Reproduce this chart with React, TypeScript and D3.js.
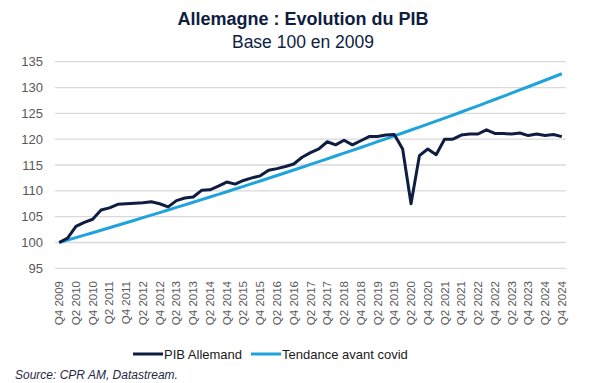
import React from "react";
import * as d3 from "d3";

const quarters: string[] = [];
const years = [2009, 2010, 2011, 2012, 2013, 2014, 2015, 2016, 2017, 2018, 2019, 2020, 2021, 2022, 2023, 2024];
// Q4 2009 .. Q4 2024 quarterly categories
years.forEach((y) => {
  ["Q1", "Q2", "Q3", "Q4"].forEach((q) => {
    if (y === 2009 && q !== "Q4") return;
    quarters.push(`${q} ${y}`);
  });
});

const pibAllemand = [
  100.0, 100.85, 103.1, 103.9, 104.5, 106.3, 106.7, 107.4, 107.5, 107.6,
  107.7, 107.9, 107.5, 106.9, 108.1, 108.6, 108.8, 110.1, 110.2, 110.9,
  111.7, 111.3, 112.0, 112.5, 112.9, 114.0, 114.3, 114.7, 115.2, 116.5,
  117.4, 118.1, 119.5, 118.9, 119.8, 118.9, 119.7, 120.5, 120.5, 120.8,
  120.9, 118.1, 107.5, 116.8, 118.1, 117.0, 120.0, 120.0, 120.8, 121.0,
  121.0, 121.8, 121.1, 121.1, 121.0, 121.2, 120.7, 121.0, 120.7, 120.9,
  120.5,
];

const tendance = [
  100.0, 100.47, 100.94, 101.42, 101.89, 102.37, 102.85, 103.34, 103.82, 104.31,
  104.8, 105.29, 105.79, 106.29, 106.79, 107.29, 107.79, 108.3, 108.81, 109.32,
  109.83, 110.35, 110.87, 111.39, 111.91, 112.44, 112.97, 113.5, 114.03, 114.57,
  115.11, 115.65, 116.19, 116.74, 117.29, 117.84, 118.39, 118.95, 119.51, 120.07,
  120.63, 121.2, 121.77, 122.34, 122.92, 123.5, 124.08, 124.67, 125.26, 125.86,
  126.46, 127.07, 127.68, 128.29, 128.91, 129.53, 130.15, 130.78, 131.41, 132.04,
  132.67,
];

const yTicks = [95, 100, 105, 110, 115, 120, 125, 130, 135];

const W = 598;
const H = 383;
const plotLeft = 55;
const plotRight = 566;
const yTop = 61.7;
const yBottom = 268.3;

const NAVY = "#0e1d41";
const BLUE = "#1fa3dc";

export default function App() {
  const x = d3.scaleBand<string>().domain(quarters).range([plotLeft, plotRight]);
  const cx = (q: string) => (x(q) as number) + x.bandwidth() / 2;
  const y = d3.scaleLinear().domain([95, 135]).range([yBottom, yTop]);

  const line = d3
    .line<number>()
    .x((_, i) => cx(quarters[i]))
    .y((d) => y(d))
    .curve(d3.curveLinear);

  const labelQuarters = quarters.filter((_, i) => i % 2 === 0);

  return (
    <svg
      width={W}
      height={H}
      style={{ position: "absolute", left: 0, top: 0, background: "#fff" }}
      fontFamily="'Liberation Sans', Arial, sans-serif"
    >
      <text x={303} y={25} textAnchor="middle" fontSize={18} fontWeight="bold" fill={NAVY}>
        Allemagne : Evolution du PIB
      </text>
      <text x={303} y={48} textAnchor="middle" fontSize={17.5} fill={NAVY}>
        Base 100 en 2009
      </text>

      {yTicks.map((t) => (
        <g key={t}>
          <line x1={plotLeft} x2={plotRight} y1={y(t)} y2={y(t)} stroke="#d9d9d9" strokeWidth={1.3} />
          <text x={43} y={y(t)} dy="0.35em" textAnchor="end" fontSize={13} fill="#595959">
            {t}
          </text>
        </g>
      ))}

      {labelQuarters.map((q) => (
        <text
          key={q}
          transform={`translate(${cx(q) + 4},${281}) rotate(-90)`}
          textAnchor="end"
          fontSize={11.5}
          fill="#595959"
        >
          {q}
        </text>
      ))}

      <path d={line(tendance) || ""} fill="none" stroke={BLUE} strokeWidth={3} strokeLinejoin="round" />
      <path d={line(pibAllemand) || ""} fill="none" stroke={NAVY} strokeWidth={3} strokeLinejoin="round" />

      <g>
        <line x1={133} x2={163} y1={354} y2={354} stroke={NAVY} strokeWidth={3} />
        <text x={164} y={354} dy="0.35em" fontSize={13} fill="#1a1a1a">
          PIB Allemand
        </text>
        <line x1={251} x2={281} y1={354} y2={354} stroke={BLUE} strokeWidth={3} />
        <text x={282} y={354} dy="0.35em" fontSize={13} fill="#1a1a1a">
          Tendance avant covid
        </text>
      </g>

      <text x={15} y={379} fontSize={12} fontStyle="italic" fill="#1f2a44">
        Source: CPR AM, Datastream.
      </text>
    </svg>
  );
}
